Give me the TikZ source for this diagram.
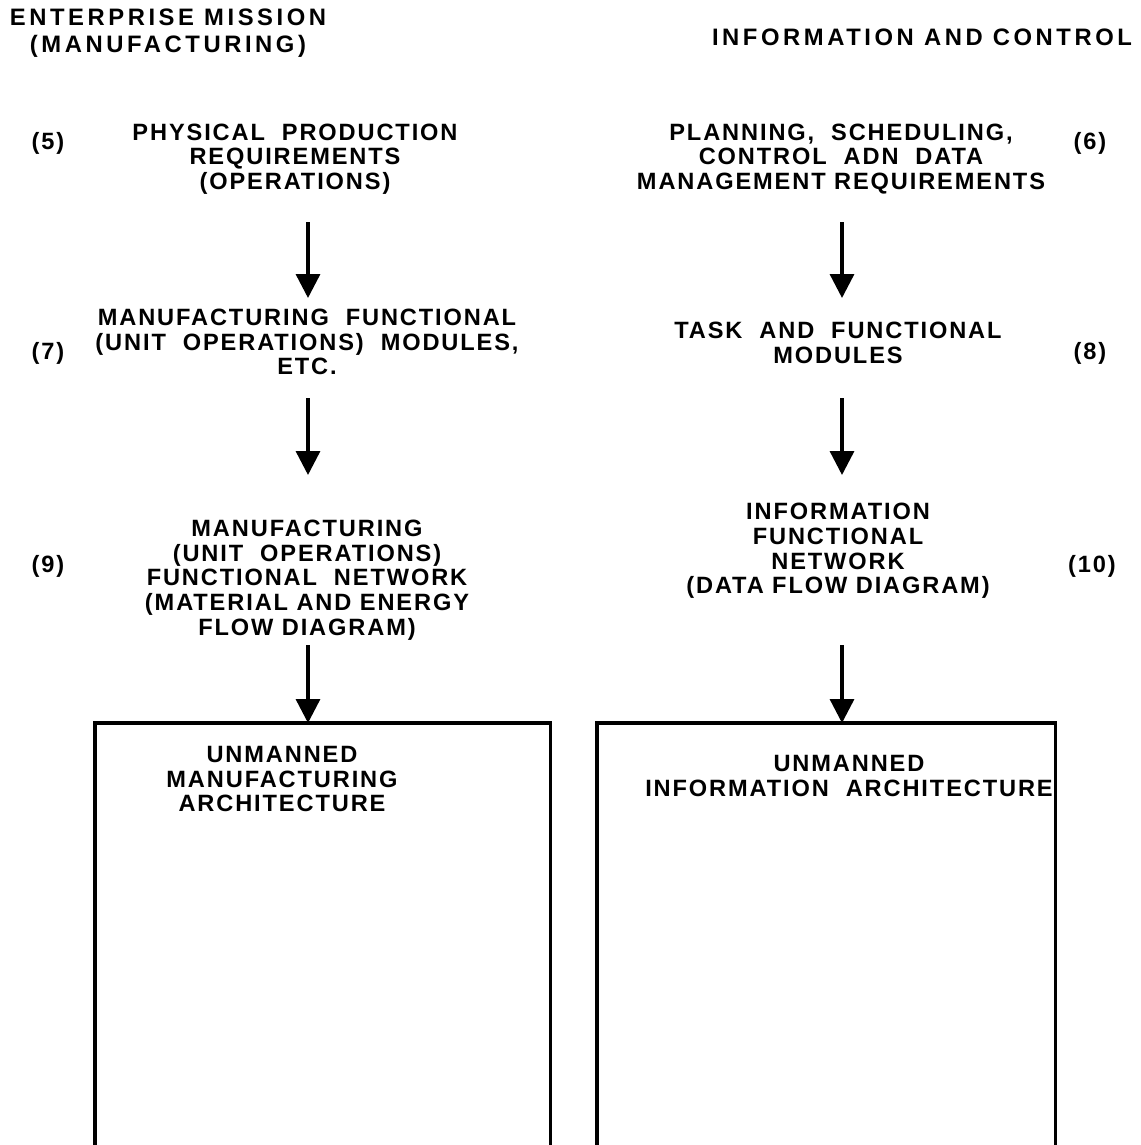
\documentclass[tikz,border=0pt]{standalone}
\usepackage{fontspec}
\setmainfont{Liberation Sans}[LetterSpace=8]
\newfontfamily\headfont{Liberation Sans}[LetterSpace=15]
\usetikzlibrary{arrows.meta}
\begin{document}
\begin{tikzpicture}[x=1pt,y=-1pt,
  lbl/.style={inner sep=0pt,align=center,font=\fontsize{23.6}{24.75}\selectfont\bfseries},
  head/.style={inner sep=0pt,align=center,font=\headfont\fontsize{23.8}{27}\selectfont\bfseries},
  num/.style={inner sep=0pt,font=\fontsize{23.6}{24.5}\selectfont\bfseries},
  arr/.style={line width=3.4pt,-{Triangle[width=24pt,length=24pt]}},
  frame/.style={line width=3.2pt},
  area/.style={inner sep=0pt,minimum width=455pt,minimum height=440pt}]
\useasboundingbox (0,0) rectangle (1140,1145);

% column headings
\node[head] (hl) at (168,33) {ENTERPRISE MISSION\\(MANUFACTURING)};
\node[head] (hr) at (922,37) {INFORMATION AND CONTROL};

% manufacturing column
\node[lbl] (m5) at (295,159) {PHYSICAL~ PRODUCTION\\REQUIREMENTS\\(OPERATIONS)};
\node[num] (n5) at (48,143) {(5)};
\node[lbl] (m7) at (307,342) {MANUFACTURING~ FUNCTIONAL\\(UNIT~ OPERATIONS)~ MODULES,\\ETC.};
\node[num] (n7) at (48,353) {(7)};
\node[lbl] (m9) at (307,580) {MANUFACTURING\\(UNIT~ OPERATIONS)\\FUNCTIONAL~ NETWORK\\(MATERIAL AND ENERGY\\FLOW DIAGRAM)};
\node[num] (n9) at (48,566) {(9)};

% information column
\node[lbl] (i6) at (841,159) {PLANNING,~ SCHEDULING,\\CONTROL~ ADN~ DATA\\MANAGEMENT REQUIREMENTS};
\node[num] (n6) at (1090,143) {(6)};
\node[lbl] (i8) at (838,343) {TASK~ AND~ FUNCTIONAL\\MODULES};
\node[num] (n8) at (1090,353) {(8)};
\node[lbl] (i10) at (838,551) {INFORMATION\\FUNCTIONAL\\NETWORK\\(DATA FLOW DIAGRAM)};
\node[num] (n10) at (1092,566) {(10)};

% architecture areas, open at the bottom
\node[area,anchor=north west] (bl) at (95,723) {};
\node[area,anchor=north west,minimum width=458pt] (br) at (597,723) {};
\draw[frame] (bl.south west) -- (bl.north west) -- (bl.north east) -- (bl.south east);
\draw[frame] (br.south west) -- (br.north west) -- (br.north east) -- (br.south east);
\node[lbl] (bt) at (282,779) {UNMANNED\\MANUFACTURING\\ARCHITECTURE};
\node[lbl] (brt) at (849,776) {UNMANNED\\INFORMATION~ ARCHITECTURE};

% arrow columns
\coordinate (axl) at (308,0);
\coordinate (axr) at (842,0);

\coordinate (a1s) at (308,222); \coordinate (a1e) at (308,298);
\coordinate (a2s) at (308,398); \coordinate (a2e) at (308,475);
\coordinate (a3s) at (308,645);
\coordinate (b1s) at (842,222); \coordinate (b1e) at (842,298);
\coordinate (b2s) at (842,398); \coordinate (b2e) at (842,475);
\coordinate (b3s) at (842,645);

\draw[arr] (a1s) -- (a1e);
\draw[arr] (a2s) -- (a2e);
\draw[arr] (a3s) -- (bl.north -| axl);
\draw[arr] (b1s) -- (b1e);
\draw[arr] (b2s) -- (b2e);
\draw[arr] (b3s) -- (br.north -| axr);
\end{tikzpicture}
\end{document}
